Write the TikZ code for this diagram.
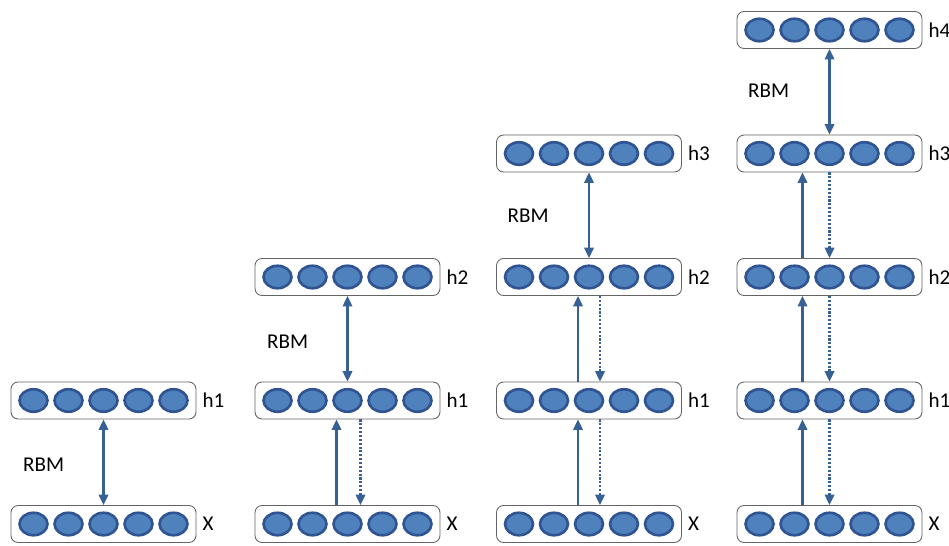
\documentclass[tikz,border=0pt]{standalone}
\usepackage{fontspec}
\setmainfont{Carlito}
\usepackage{tikz}
\usetikzlibrary{arrows.meta, positioning}
\definecolor{unitfill}{RGB}{79,129,189}
\definecolor{unitdraw}{RGB}{47,84,145}
\definecolor{arrowblue}{RGB}{55,96,148}
\definecolor{boxgray}{RGB}{100,100,100}

\begin{document}
\begin{tikzpicture}[x=0.02cm, y=-0.02cm, every node/.style={font=\fontsize{12}{14}\selectfont},
  layer/.style={draw=boxgray, line width=0.5pt, rounded corners=4pt, minimum width=3.7cm, minimum height=0.74cm, inner sep=0pt},
  unit/.style={draw=unitdraw, fill=unitfill, line width=1.5pt},
  up/.style={arrowblue, line width=1.2pt, -{Triangle[length=0.21cm,width=0.19cm]}},
  down/.style={up, densely dotted},
  rbm/.style={arrowblue, line width=1.2pt, {Triangle[length=0.21cm,width=0.19cm]}-{Triangle[length=0.21cm,width=0.19cm]}}]
  \useasboundingbox (0,0) rectangle (949,545);
  % ---------- LAYERS ----------
  \foreach \col/\cx/\top in {a/103.5/1, b/347.5/2, c/589/3, d/829.5/4} {
    \foreach \r in {0,...,\top} {
      \pgfmathsetmacro\cy{524-123.5*\r}
      \node[layer] (\col-\r) at (\cx,\cy) {};
      \foreach \i in {-2,...,2}
        \draw[unit] ([xshift=\i*0.7cm]\col-\r.center) ellipse [x radius=0.28cm, y radius=0.225cm];
      \ifnum\r=0
        \node[right=0pt of \col-\r] (\col-\r-lab) {X};
      \else
        \node[right=0pt of \col-\r] (\col-\r-lab) {h\r};
      \fi
    }
  }
  % ---------- COLUMN a ----------
  \draw[rbm] (a-0.north) -- (a-1.south);
  \node (a-rbm) at ([xshift=0.66cm, yshift=0.8cm]a-0.north west) {RBM};
  % ---------- COLUMN b ----------
  \draw[up] ([xshift=-0.22cm]b-0.north) -- ([xshift=-0.22cm]b-1.south);
  \draw[down] ([xshift=0.26cm]b-1.south) -- ([xshift=0.26cm]b-0.north);
  \draw[rbm] (b-1.north) -- (b-2.south);
  \node (b-rbm) at ([xshift=0.66cm, yshift=0.8cm]b-1.north west) {RBM};
  % ---------- COLUMN c ----------
  \foreach \r/\s in {0/1, 1/2} {
    \draw[up] ([xshift=-0.22cm]c-\r.north) -- ([xshift=-0.22cm]c-\s.south);
    \draw[down] ([xshift=0.22cm]c-\s.south) -- ([xshift=0.22cm]c-\r.north);
  }
  \draw[rbm] (c-2.north) -- (c-3.south);
  \node (c-rbm) at ([xshift=0.64cm, yshift=0.85cm]c-2.north west) {RBM};
  % ---------- COLUMN d ----------
  \foreach \r/\s in {0/1, 1/2, 2/3} {
    \draw[up] ([xshift=-0.54cm]d-\r.north) -- ([xshift=-0.54cm]d-\s.south);
    \draw[down] (d-\s.south) -- (d-\r.north);
  }
  \draw[rbm] (d-3.north) -- (d-4.south);
  \node (d-rbm) at ([xshift=0.64cm, yshift=0.88cm]d-3.north west) {RBM};
\end{tikzpicture}
\end{document}
